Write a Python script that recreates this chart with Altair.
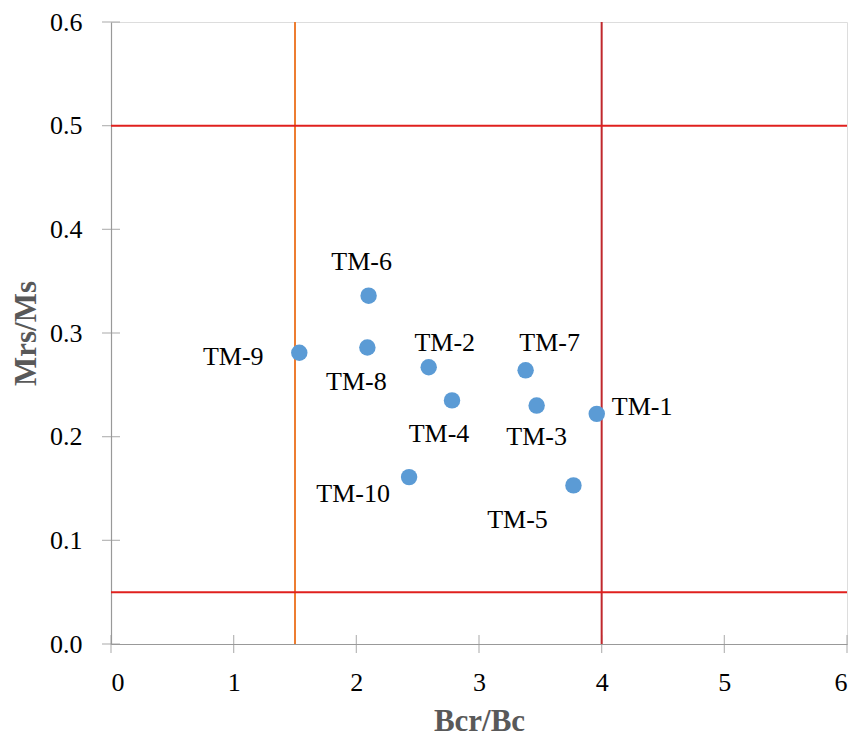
import altair as alt
import pandas as pd

# --- data ---
names = ["TM-1", "TM-2", "TM-3", "TM-4", "TM-5", "TM-6", "TM-7", "TM-8", "TM-9", "TM-10"]
bcr_bc = [3.96, 2.59, 3.47, 2.78, 3.77, 2.10, 3.38, 2.09, 1.535, 2.43]
mrs_ms = [0.222, 0.267, 0.230, 0.235, 0.153, 0.336, 0.264, 0.286, 0.281, 0.161]

x_ticks = [0, 1, 2, 3, 4, 5, 6]
y_ticks = [0.0, 0.1, 0.2, 0.3, 0.4, 0.5, 0.6]

v_lines_orange = [1.5]
v_lines_red = [4]
h_lines_red = [0.05, 0.5]

# label placement (pixel offsets, layout only)
placement = {
    "TM-1": ("left", 15, -7),
    "TM-2": ("center", 16, -24),
    "TM-3": ("center", 0, 31),
    "TM-4": ("center", -13, 34),
    "TM-5": ("center", -56, 35),
    "TM-6": ("center", -7, -34),
    "TM-7": ("center", 24, -27),
    "TM-8": ("center", -11, 34),
    "TM-9": ("center", -66, 4),
    "TM-10": ("center", -56, 17),
}

df = pd.DataFrame({"name": names, "x": bcr_bc, "y": mrs_ms})

W, H = 736, 622
FONT = "Liberation Serif"
AXIS_COL = "#999999"

xs = alt.Scale(domain=[0, 6], nice=False, zero=False)
ys = alt.Scale(domain=[0, 0.6], nice=False, zero=False)

common = dict(
    grid=False, ticks=False, tickSize=0,
    labelFont=FONT, labelFontSize=26, labelColor="#000000",
    domainColor=AXIS_COL, domainWidth=1.2,
    titleFont=FONT, titleFontSize=31, titleFontWeight="bold",
    titleColor="#595959", titleBaseline="middle", titleAlign="center",
)
x_axis = alt.Axis(values=x_ticks, format="d", title="Bcr/Bc", labelPadding=25,
                  titleX=368, titleY=77, **common)
y_axis = alt.Axis(values=y_ticks, format=".1f", title="Mrs/Ms", labelPadding=29,
                  titleX=-85, titleY=311, titleAngle=-90, **common)

xtick_df = pd.DataFrame({"t": x_ticks})
ytick_df = pd.DataFrame({"t": y_ticks})

xticks = alt.Chart(xtick_df).mark_tick(orient="vertical", size=18, thickness=1.2,
                                       color=AXIS_COL).encode(
    x=alt.X("t:Q", scale=xs, axis=x_axis), y=alt.datum(0, scale=ys, axis=y_axis))
yticks = alt.Chart(ytick_df).mark_tick(orient="horizontal", size=18, thickness=1.2,
                                       color=AXIS_COL).encode(
    y=alt.Y("t:Q", scale=ys, axis=y_axis), x=alt.datum(0, scale=xs, axis=x_axis))

orange = alt.Chart(pd.DataFrame({"v": v_lines_orange})).mark_rule(
    color="#ED7D31", strokeWidth=2).encode(x=alt.X("v:Q", scale=xs, axis=x_axis))
redv = alt.Chart(pd.DataFrame({"v": v_lines_red})).mark_rule(
    color="#C0282D", strokeWidth=2).encode(x=alt.X("v:Q", scale=xs, axis=x_axis))
redh = alt.Chart(pd.DataFrame({"h": h_lines_red})).mark_rule(
    color="#E0201E", strokeWidth=2).encode(y=alt.Y("h:Q", scale=ys, axis=y_axis))

points = alt.Chart(df).mark_circle(size=270, color="#5B9BD5", opacity=1).encode(
    x=alt.X("x:Q", scale=xs, axis=x_axis), y=alt.Y("y:Q", scale=ys, axis=y_axis))

labels = []
for n in names:
    align, dx, dy = placement[n]
    labels.append(
        alt.Chart(df).transform_filter(alt.datum.name == n).mark_text(
            font=FONT, fontSize=26, color="#000000", align=align,
            baseline="middle", dx=dx, dy=dy).encode(
            x=alt.X("x:Q", scale=xs, axis=x_axis),
            y=alt.Y("y:Q", scale=ys, axis=y_axis), text="name:N")
    )

chart = alt.layer(xticks, yticks, orange, redv, redh, points, *labels).properties(
    width=W, height=H,
    autosize=alt.AutoSizeParams(type="none"),
    padding={"left": 111, "top": 22, "right": 9, "bottom": 94},
).configure_view(stroke=AXIS_COL, strokeWidth=1.2).configure(background="white")

chart.save("out.html", embed_options={"renderer": "svg", "actions": False})
